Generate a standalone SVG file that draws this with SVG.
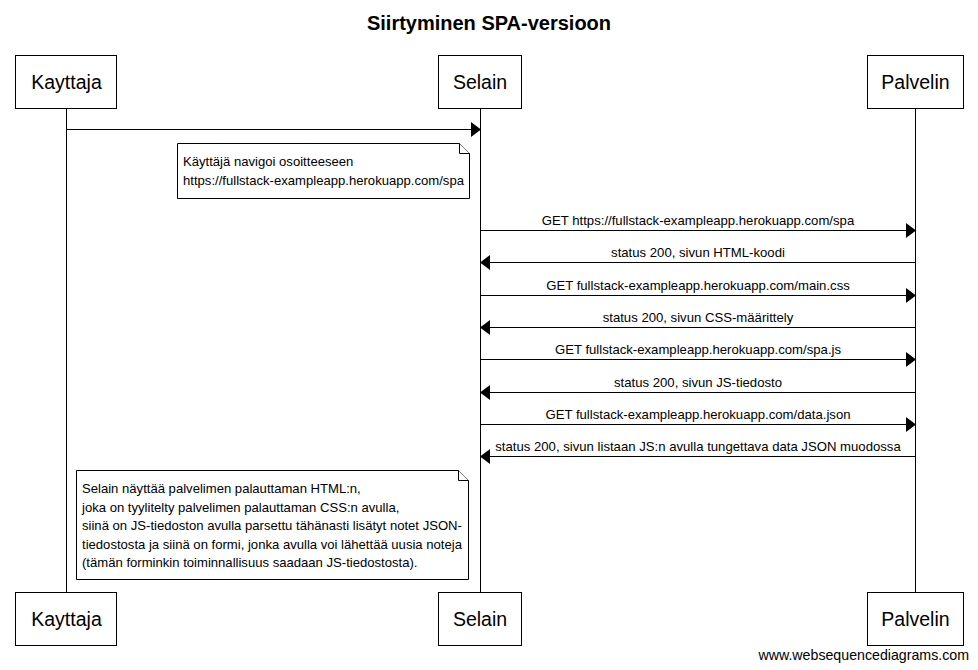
<svg xmlns="http://www.w3.org/2000/svg" width="978" height="670" viewBox="0 0 978 670">
<defs>
<style>
text{font-family:"Liberation Sans",Arial,sans-serif;fill:#000}
.box{fill:#fff;stroke:#000;stroke-width:1}
.life{stroke:#000;stroke-width:1;fill:none}
.msg{stroke:#000;stroke-width:1;fill:none}
.head{fill:#000;stroke:none}
.pl{font-size:19.5px;text-anchor:middle}
.ml{font-size:13.15px;text-anchor:middle}
.nt{font-size:13.1px}
.note{fill:#fff;stroke:#000;stroke-width:1}
</style>
</defs>
<rect width="978" height="670" fill="#fff"/>
<text x="489" y="30" font-size="20" font-weight="bold" text-anchor="middle">Siirtyminen SPA-versioon</text>
<g id="lifelines">
<line class="life" x1="66.5" y1="108" x2="66.5" y2="592"/>
<line class="life" x1="480.5" y1="108" x2="480.5" y2="592"/>
<line class="life" x1="915.5" y1="108" x2="915.5" y2="592"/>
</g>
<g id="Kayttaja">
<rect class="box" x="15.5" y="55.5" width="101" height="53"/>
<text class="pl" x="66.5" y="89">Kayttaja</text>
<rect class="box" x="15.5" y="592.5" width="101" height="53"/>
<text class="pl" x="66.5" y="626">Kayttaja</text>
</g>
<g id="Selain">
<rect class="box" x="438.5" y="55.5" width="83" height="53"/>
<text class="pl" x="480" y="89">Selain</text>
<rect class="box" x="438.5" y="592.5" width="83" height="53"/>
<text class="pl" x="480" y="626">Selain</text>
</g>
<g id="Palvelin">
<rect class="box" x="867.5" y="55.5" width="96" height="53"/>
<text class="pl" x="915.5" y="89">Palvelin</text>
<rect class="box" x="867.5" y="592.5" width="96" height="53"/>
<text class="pl" x="915.5" y="626">Palvelin</text>
</g>
<g id="connectors">
<line class="msg" x1="66" y1="129.5" x2="472" y2="129.5"/>
<polygon class="head" points="471,122 481,129.5 471,137"/>

<line class="msg" x1="481" y1="230.5" x2="907" y2="230.5"/>
<polygon class="head" points="906,223 916,230.5 906,238"/>
<text class="ml" x="698" y="225">GET https://fullstack-exampleapp.herokuapp.com/spa</text>

<line class="msg" x1="489" y1="262.5" x2="915" y2="262.5"/>
<polygon class="head" points="490,255 480,262.5 490,270"/>
<text class="ml" x="698" y="257">status 200, sivun HTML-koodi</text>

<line class="msg" x1="481" y1="295.5" x2="907" y2="295.5"/>
<polygon class="head" points="906,288 916,295.5 906,303"/>
<text class="ml" x="698" y="290">GET fullstack-exampleapp.herokuapp.com/main.css</text>

<line class="msg" x1="489" y1="327.5" x2="915" y2="327.5"/>
<polygon class="head" points="490,320 480,327.5 490,335"/>
<text class="ml" x="698" y="322">status 200, sivun CSS-määrittely</text>

<line class="msg" x1="481" y1="359.5" x2="907" y2="359.5"/>
<polygon class="head" points="906,352 916,359.5 906,367"/>
<text class="ml" x="698" y="354">GET fullstack-exampleapp.herokuapp.com/spa.js</text>

<line class="msg" x1="489" y1="392.5" x2="915" y2="392.5"/>
<polygon class="head" points="490,385 480,392.5 490,400"/>
<text class="ml" x="698" y="387">status 200, sivun JS-tiedosto</text>

<line class="msg" x1="481" y1="424.5" x2="907" y2="424.5"/>
<polygon class="head" points="906,417 916,424.5 906,432"/>
<text class="ml" x="698" y="419">GET fullstack-exampleapp.herokuapp.com/data.json</text>

<line class="msg" x1="489" y1="456.5" x2="915" y2="456.5"/>
<polygon class="head" points="490,449 480,456.5 490,464"/>
<text class="ml" x="698" y="451">status 200, sivun listaan JS:n avulla tungettava data JSON muodossa</text>
</g>
<g id="note1">
<path class="note" d="M177.5,143.5 H459.5 L469.5,153.5 V198.5 H177.5 Z"/>
<path class="note" d="M459.5,143.5 V153.5 H469.5" fill="none"/>
<text class="nt" x="183" y="166">Käyttäjä navigoi osoitteeseen</text>
<text class="nt" x="183" y="185">https://fullstack-exampleapp.herokuapp.com/spa</text>
</g>
<g id="note2">
<path class="note" d="M76.5,470.5 H458.5 L468.5,480.5 V579.5 H76.5 Z"/>
<path class="note" d="M458.5,470.5 V480.5 H468.5" fill="none"/>
<text class="nt" x="82" y="493">Selain näyttää palvelimen palauttaman HTML:n,</text>
<text class="nt" x="82" y="511.5">joka on tyylitelty palvelimen palauttaman CSS:n avulla,</text>
<text class="nt" x="82" y="530">siinä on JS-tiedoston avulla parsettu tähänasti lisätyt notet JSON-</text>
<text class="nt" x="82" y="548.5">tiedostosta ja siinä on formi, jonka avulla voi lähettää uusia noteja</text>
<text class="nt" x="82" y="567">(tämän forminkin toiminnallisuus saadaan JS-tiedostosta).</text>
</g>
<text x="969" y="660" font-size="14.2" text-anchor="end">www.websequencediagrams.com</text>
</svg>
